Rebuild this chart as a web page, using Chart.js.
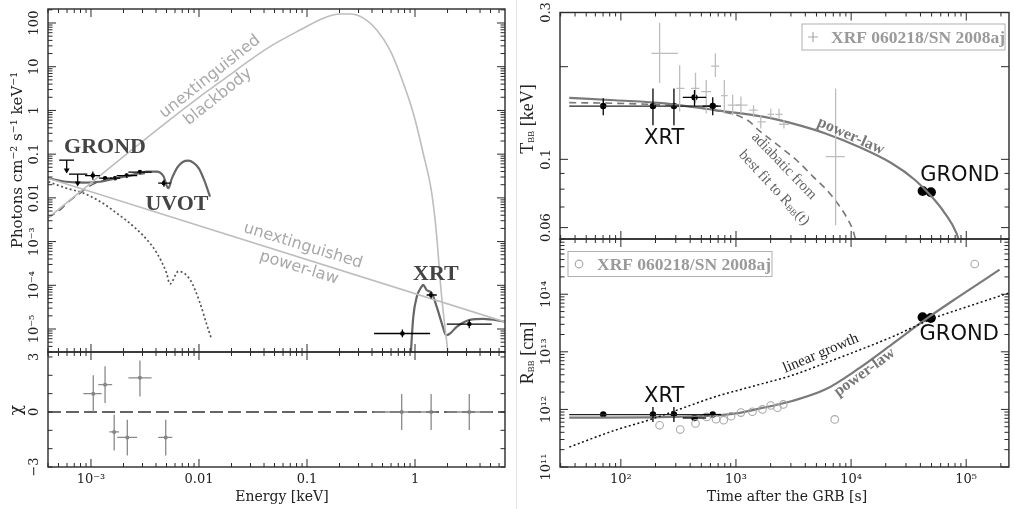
<!DOCTYPE html>
<html>
<head>
<meta charset="utf-8">
<script src="https://cdn.jsdelivr.net/npm/chart.js"></script>
<style>
  body { margin: 0; background: #fff; }
  #wrap { position: relative; width: 1014px; height: 509px; overflow: hidden; }
  #wrap canvas { position: absolute; left: 0; top: 0; }
  #sep { position: absolute; left: 516px; top: 0; width: 1px; height: 509px; background: #e6e6e6; }
</style>
</head>
<body>
<div id="wrap">
  <div id="sep"></div>
  <canvas id="spec" width="1014" height="509"></canvas>
  <canvas id="chi" width="1014" height="509"></canvas>
  <canvas id="temp" width="1014" height="509"></canvas>
  <canvas id="rad" width="1014" height="509"></canvas>
</div>

<script>
// ---------------- left panel: spectrum ----------------
// unextinguished blackbody
const bbE = [4.0e-4, 3.16e-3, 0.01, 0.0178, 0.0296, 0.0454, 0.0861, 0.142, 0.202, 0.250, 0.333, 0.442, 0.587, 0.780, 0.966, 1.19, 1.43, 1.585, 1.74, 2.02];
const bbF = [3.47e-3, 0.219, 2.0, 5.6, 14.1, 28.8, 69, 129, 160, 160, 129, 69, 24, 4.2, 0.85, 0.105, 0.0126, 1.41e-3, 7.9e-5, 2.8e-6];
// unextinguished power-law
const plE = [4.0e-4, 6.81];
const plF = [0.0282, 1.45e-5];
// dotted component
const dotE = [4.03e-4, 5.94e-4, 8.47e-4, 1.21e-3, 1.73e-3, 2.47e-3, 3.28e-3, 4.07e-3, 5.01e-3, 5.38e-3, 6.46e-3, 8.26e-3, 0.0102, 0.0117, 0.0129];
const dotF = [0.0234, 0.0166, 0.0129, 8.3e-3, 4.47e-3, 2.24e-3, 1.12e-3, 5.5e-4, 1.9e-4, 1.07e-4, 2.09e-4, 1.35e-4, 3.98e-5, 1.35e-5, 6.46e-6];
// dashed component
const dashE = [4.0e-4, 5.37e-4, 6.46e-4, 7.94e-4, 9.55e-4, 1.2e-3, 1.58e-3, 2.24e-3, 3.16e-3];
const dashF = [3.47e-3, 5.75e-3, 8.9e-3, 0.0129, 0.0182, 0.0234, 0.0275, 0.0316, 0.0363];
// total model, optical/UV part
const optE = [4.0e-4, 5.94e-4, 8.51e-4, 1.21e-3, 1.73e-3, 2.47e-3, 3.28e-3, 4.06e-3, 4.68e-3, 5.2e-3, 5.62e-3, 6.31e-3, 7.08e-3, 7.94e-3, 8.91e-3, 0.01, 0.0112, 0.01265];
const optF = [0.0282, 0.0234, 0.0224, 0.0234, 0.0282, 0.0339, 0.0398, 0.0398, 0.0316, 0.0166, 0.0282, 0.0501, 0.0661, 0.0708, 0.0631, 0.0468, 0.0251, 0.0107];
// total model, X-ray part
const xmE = [0.912, 0.964, 1.04, 1.15, 1.19, 1.28, 1.43, 1.59, 1.77, 1.94, 2.11, 2.43, 3.23, 4.30, 6.81];
const xmF = [2.5e-6, 1.9e-5, 5.5e-5, 9.3e-5, 1.02e-4, 7.8e-5, 6.6e-5, 3.2e-5, 1.35e-5, 7.2e-6, 7.9e-6, 1.12e-5, 1.62e-5, 1.7e-5, 1.48e-5];
// GROND + UVOT detections
const grE = [1.04e-3, 1.35e-3, 1.67e-3, 2.14e-3, 2.84e-3, 4.74e-3];
const grF = [0.0324, 0.0282, 0.0282, 0.0324, 0.0387, 0.0217];
const grEerr = [[8.8e-4, 1.21e-3], [1.19e-3, 1.56e-3], [1.50e-3, 1.86e-3], [1.73e-3, 2.68e-3], [2.22e-3, 3.64e-3], [4.19e-3, 5.46e-3]];
const grFerr = [[0.0258, 0.040], [0.026, 0.031], [0.026, 0.031], [0.029, 0.036], [0.035, 0.043], [0.018, 0.026]];
// upper limits
const ulE = [5.96e-4, 7.53e-4];
const ulF = [0.0729, 0.0349];
const ulEerr = [[5.08e-4, 6.97e-4], [6.25e-4, 9.25e-4]];
const ulTo = [0.0361, 0.0182];
// XRT spectrum
const xrE = [0.764, 1.41, 3.18];
const xrF = [7.9e-6, 6.0e-5, 1.3e-5];
const xrEerr = [[0.418, 1.38], [1.28, 1.59], [1.97, 5.13]];
const xrFerr = [[6.5e-6, 9.8e-6], [5.0e-5, 7.1e-5], [1.04e-5, 1.62e-5]];
// residuals
const chiE = [1.05e-3, 1.35e-3, 1.64e-3, 2.17e-3, 2.84e-3, 4.92e-3, 0.753, 1.41, 3.18];
const chiV = [1.0, 1.49, -1.09, -1.39, 1.86, -1.39, 0, 0, 0];
const chiEerr = [[8.49e-4, 1.256e-3], [1.17e-3, 1.57e-3], [1.48e-3, 1.82e-3], [1.75e-3, 2.67e-3], [2.22e-3, 3.64e-3], [4.2e-3, 5.66e-3], [0.418, 1.04], [1.04, 1.59], [1.97, 5.13]];
const chiVerr = [[0, 2.0], [0.49, 2.49], [-2.1, -0.15], [-2.37, -0.42], [0.85, 2.8], [-2.37, -0.42], [-0.98, 0.98], [-0.98, 0.98], [-0.98, 0.98]];
const zeroE = [4.0e-4, 6.81];
const zeroV = [0, 0];

// ---------------- right panels: T_BB and R_BB ----------------
const xrtT = [70.3, 190, 289, 436, 628];
const xrtTerr = [null, null, null, [345, 551], [514, 741]];
const xrtTemp = [0.149, 0.149, 0.149, 0.159, 0.149];
const xrtTempErr = [[0.139, 0.158], [0.129, 0.170], [0.129, 0.170], [0.149, 0.168], [0.139, 0.159]];
const xrtRad = [8.15e11, 8.15e11, 8.15e11, 7.1e11, 8.15e11];
const xrtRadErr = [null, [6.07e11, 1.1e12], [6.07e11, 1.1e12], null, null];
const xrtFitT = [35.6, 700];
const xrtFitTemp = [0.149, 0.149];
const xrtFitRad = [8.15e11, 8.15e11];

const grondT = [41800, 49300];
const grondTemp = [0.0789, 0.0782];
const grondRad = [3.98e13, 3.86e13];

const plTT = [35.6, 88.7, 240, 649, 1758, 3080, 5980, 11600, 22500, 35900, 50000, 65200, 82200, 88500];
const plTemp = [0.1585, 0.1556, 0.152, 0.1446, 0.1374, 0.1309, 0.1214, 0.1099, 0.0971, 0.0857, 0.0757, 0.0668, 0.0576, 0.0527];
const adT = [35.6, 88.7, 334, 649, 1260, 1590, 2400, 3350, 4670, 6500, 9060, 10350, 10900];
const adTemp = [0.1528, 0.1521, 0.149, 0.1446, 0.134, 0.124, 0.110, 0.0995, 0.0879, 0.0776, 0.0652, 0.0589, 0.0551];

const plRT = [35.6, 178, 482, 966, 1590, 3080, 6000, 11600, 22600, 45300, 85100, 195000];
const plRad = [7.2e11, 7.3e11, 7.6e11, 8.45e11, 1.03e12, 1.40e12, 2.23e12, 5.1e12, 1.35e13, 3.77e13, 8.9e13, 2.67e14];
const linT = [35.7, 88.7, 172, 334, 649, 1590, 3080, 6000, 11600, 22600, 50100, 111000, 235000];
const linRad = [2.22e11, 4.34e11, 6.47e11, 1.03e12, 1.64e12, 2.7e12, 3.91e12, 6.4e12, 1.06e13, 1.81e13, 3.71e13, 6.41e13, 1.05e14];

// XRF 060218 / SN 2008aj comparison
const refT = [217, 324, 445, 551, 662, 792, 935, 1104, 1420, 1640, 2004, 2366, 2606, 7330];
const refTerr = [[184, 313], [303, 357], [408, 482], [498, 608], [608, 717], [741, 846], [846, 1104], [1000, 1260], [1300, 1540], [1540, 1820], [1875, 2140], [2200, 2540], [2370, 2890], [6000, 8810]];
const refTemp = [0.221, 0.170, 0.170, 0.166, 0.201, 0.161, 0.150, 0.150, 0.1445, 0.1324, 0.140, 0.140, 0.130, 0.102];
const refTempErr = [[0.177, 0.278], [0.143, 0.202], [0.152, 0.191], [0.141, 0.181], [0.185, 0.221], [0.141, 0.181], [0.139, 0.162], [0.141, 0.160], [0.137, 0.150], [0.126, 0.139], [0.136, 0.146], [0.136, 0.146], [0.126, 0.134], [0.0611, 0.170]];
const refRT = [217, 328, 445, 557, 671, 782, 906, 1104, 1390, 1698, 2004, 2291, 2577, 7210, 118600];
const refRad = [5.3e11, 4.47e11, 5.7e11, 7.4e11, 6.76e11, 6.5e11, 7.6e11, 8.8e11, 9.1e11, 1.0e12, 1.17e12, 1.07e12, 1.22e12, 6.7e11, 3.35e14];

// ---------------- ticks ----------------
const energyMajor = [1e-3, 0.01, 0.1, 1];
const energyLabels = ['10⁻³', '0.01', '0.1', '1'];
const fluxMajor = [1e-5, 1e-4, 1e-3, 0.01, 0.1, 1, 10, 100];
const fluxLabels = ['10⁻⁵', '10⁻⁴', '10⁻³', '0.01', '0.1', '1', '10', '100'];
const chiTicks = [-3, -2, -1, 0, 1, 2, 3];
const chiLabelVals = [-3, 0, 3];
const chiLabels = ['−3', '0', '3'];
const timeMajor = [1e2, 1e3, 1e4, 1e5];
const timeLabels = ['10²', '10³', '10⁴', '10⁵'];
const tempMajor = [0.06, 0.1, 0.2, 0.3];
const tempMinor = [0.07, 0.08, 0.09];
const tempLabelVals = [0.06, 0.1, 0.3];
const tempLabels = ['0.06', '0.1', '0.3'];
const radMajor = [1e11, 1e12, 1e13, 1e14, 1e15];
const radLabelVals = [1e11, 1e12, 1e13, 1e14];
const radLabels = ['10¹¹', '10¹²', '10¹³', '10¹⁴'];

// minor log ticks 2..9 x 10^e
function decadeTicks(lo, hi) {
  const out = [];
  for (let e = lo; e <= hi; e++) for (let m = 2; m < 10; m++) out.push(m * Math.pow(10, e));
  return out;
}

const SERIF = '"DejaVu Serif", serif';
const TIMES = '"Liberation Serif", "Times New Roman", serif';
const SANS = '"DejaVu Sans", sans-serif';

const pts = (xs, ys) => xs.map((x, i) => ({ x, y: ys[i] }));

function curve(xs, ys, color, width, dash) {
  return {
    data: pts(xs, ys), showLine: true, borderColor: color, borderWidth: width,
    borderDash: dash || [], pointRadius: 0, cubicInterpolationMode: 'monotone', fill: false
  };
}
function marks(xs, ys, o) {
  return Object.assign({
    data: pts(xs, ys), showLine: false, pointRadius: 2.5,
    pointBackgroundColor: '#000', pointBorderColor: '#000', pointBorderWidth: 0
  }, o);
}

// draw a line of text made of pieces (for subscripts), centred on (x, y)
function drawRich(ctx, x, y, rot, parts, color) {
  ctx.save();
  ctx.translate(x, y);
  ctx.rotate(rot * Math.PI / 180);
  ctx.fillStyle = color;
  ctx.textBaseline = 'middle';
  ctx.textAlign = 'left';
  let w = 0;
  parts.forEach(p => { ctx.font = p.f; p.w = ctx.measureText(p.t).width; w += p.w; });
  let cx = -w / 2;
  parts.forEach(p => { ctx.font = p.f; ctx.fillText(p.t, cx, p.dy || 0); cx += p.w; });
  ctx.restore();
}

const decoPlugin = {
  id: 'deco',
  afterDatasetsDraw(chart) {
    const { ctx, chartArea: a, scales: { x, y } } = chart;
    ctx.save();
    ctx.beginPath();
    ctx.rect(a.left, a.top, a.right - a.left, a.bottom - a.top);
    ctx.clip();
    chart.data.datasets.forEach(ds => {
      if (!ds.xErr && !ds.yErr && !ds.limTo) return;
      ctx.strokeStyle = ds.errColor || '#000';
      ctx.fillStyle = ds.errColor || '#000';
      ctx.lineWidth = ds.errWidth || 1.3;
      ds.data.forEach((p, i) => {
        const px = x.getPixelForValue(p.x), py = y.getPixelForValue(p.y);
        const xe = ds.xErr && ds.xErr[i], ye = ds.yErr && ds.yErr[i];
        ctx.beginPath();
        if (xe) { ctx.moveTo(x.getPixelForValue(xe[0]), py); ctx.lineTo(x.getPixelForValue(xe[1]), py); }
        if (ye) { ctx.moveTo(px, y.getPixelForValue(ye[0])); ctx.lineTo(px, y.getPixelForValue(ye[1])); }
        ctx.stroke();
        if (ds.limTo) {
          const ty = y.getPixelForValue(ds.limTo[i]);
          ctx.beginPath(); ctx.moveTo(px, py); ctx.lineTo(px, ty - 4); ctx.stroke();
          ctx.beginPath(); ctx.moveTo(px - 3, ty - 5); ctx.lineTo(px + 3, ty - 5); ctx.lineTo(px, ty); ctx.closePath(); ctx.fill();
        }
      });
    });
    ctx.restore();
  },
  afterDraw(chart, args, o) {
    const { ctx, chartArea: a, scales: { x, y } } = chart;
    ctx.save();
    // frame
    ctx.strokeStyle = '#2a2a2a';
    ctx.lineWidth = 1.4;
    ctx.strokeRect(a.left, a.top, a.right - a.left, a.bottom - a.top);
    // inward ticks on all four sides
    ctx.lineWidth = 1;
    ctx.beginPath();
    const xt = (vals, L) => vals.forEach(v => {
      const p = x.getPixelForValue(v);
      if (p < a.left - 0.5 || p > a.right + 0.5) return;
      ctx.moveTo(p, a.bottom); ctx.lineTo(p, a.bottom - L);
      ctx.moveTo(p, a.top); ctx.lineTo(p, a.top + L);
    });
    const yt = (vals, L) => vals.forEach(v => {
      const p = y.getPixelForValue(v);
      if (p < a.top - 0.5 || p > a.bottom + 0.5) return;
      ctx.moveTo(a.left, p); ctx.lineTo(a.left + L, p);
      ctx.moveTo(a.right, p); ctx.lineTo(a.right - L, p);
    });
    xt(o.xMajor, 8); xt(o.xMinor, 4);
    yt(o.yMajor, 8); yt(o.yMinor, 4.5);
    ctx.stroke();
    // tick labels
    ctx.fillStyle = '#222';
    ctx.font = '13px ' + SERIF;
    ctx.textAlign = 'center';
    ctx.textBaseline = 'middle';
    if (o.xLab) o.xLab.vals.forEach((v, i) => ctx.fillText(o.xLab.text[i], x.getPixelForValue(v), a.bottom + 13));
    if (o.yLab) o.yLab.vals.forEach((v, i) => {
      ctx.save();
      ctx.translate(a.left - 13, y.getPixelForValue(v));
      ctx.rotate(-Math.PI / 2);
      ctx.fillText(o.yLab.text[i], 0, 0);
      ctx.restore();
    });
    ctx.restore();
    // axis titles
    (o.titles || []).forEach(t => {
      const [tx, ty] = t.pos(a);
      drawRich(ctx, tx, ty, t.rot || 0, t.parts, t.color || '#222');
    });
    // annotations anchored in data coordinates
    (o.texts || []).forEach(t => {
      drawRich(ctx, x.getPixelForValue(t.x), y.getPixelForValue(t.y), t.rot || 0, t.parts, t.color);
    });
    // legend box
    if (o.legend) {
      const L = o.legend, [bx, by] = L.pos(a);
      ctx.save();
      ctx.strokeStyle = '#b0b0b0'; ctx.lineWidth = 1;
      ctx.strokeRect(bx, by, L.w, L.h);
      const cy = by + L.h / 2, mx = bx + 11;
      ctx.strokeStyle = '#aaa'; ctx.lineWidth = 1.2;
      ctx.beginPath();
      if (L.marker === 'plus') {
        ctx.moveTo(mx - 5, cy); ctx.lineTo(mx + 5, cy);
        ctx.moveTo(mx, cy - 5); ctx.lineTo(mx, cy + 5);
      } else {
        ctx.arc(mx, cy, 3.8, 0, Math.PI * 2);
      }
      ctx.stroke();
      ctx.fillStyle = '#9a9a9a';
      ctx.font = 'bold 17.5px ' + TIMES;
      ctx.textAlign = 'left'; ctx.textBaseline = 'middle';
      ctx.fillText(L.text, bx + 29, cy + 1);
      ctx.restore();
    }
  }
};

function makeChart(id, pad, xOpt, yOpt, datasets, deco) {
  return new Chart(document.getElementById(id), {
    type: 'scatter',
    data: { datasets },
    options: {
      responsive: false, animation: false, events: [],
      layout: { padding: pad },
      plugins: { legend: { display: false }, tooltip: { enabled: false }, deco },
      scales: {
        x: Object.assign({ display: false }, xOpt),
        y: Object.assign({ display: false }, yOpt)
      }
    },
    plugins: [decoPlugin]
  });
}

const energyAxis = { type: 'logarithmic', min: 4.0e-4, max: 6.81 };
const timeAxis = { type: 'logarithmic', min: 29.6, max: 2.35e5 };
const BIG = 'bold 22px ' + TIMES;
const COMIC = '21px ' + SANS;
const NOTE = '16px ' + SANS;

// ---- spectrum ----
makeChart('spec', { left: 48, top: 9, right: 509, bottom: 157 },
  energyAxis,
  { type: 'logarithmic', min: 2.98e-6, max: 209 },
  [
    curve(bbE, bbF, '#bdbdbd', 1.6),
    curve(plE, plF, '#bdbdbd', 1.6),
    curve(dotE, dotF, '#555', 1.7, [2, 2.5]),
    curve(dashE, dashF, '#666', 1.5, [8, 5]),
    curve(optE, optF, '#666', 2.2),
    curve(xmE, xmF, '#666', 2.2),
    marks(grE, grF, { xErr: grEerr, yErr: grFerr, pointRadius: 2.3 }),
    marks(ulE, ulF, { xErr: ulEerr, limTo: ulTo, pointRadius: 0 }),
    marks(xrE, xrF, { xErr: xrEerr, yErr: xrFerr, pointRadius: 2.3 })
  ],
  {
    xMajor: energyMajor, xMinor: decadeTicks(-4, 0),
    yMajor: fluxMajor, yMinor: decadeTicks(-6, 2),
    yLab: { vals: fluxMajor, text: fluxLabels },
    titles: [{ pos: a => [a.left - 30, a.top + 151], rot: -90, parts: [{ t: 'Photons cm⁻² s⁻¹ keV⁻¹', f: '15px ' + SERIF }] }],
    texts: [
      { x: 1.35e-3, y: 0.143, parts: [{ t: 'GROND', f: BIG }], color: '#444' },
      { x: 6.25e-3, y: 7.1e-3, parts: [{ t: 'UVOT', f: BIG }], color: '#444' },
      { x: 1.56, y: 1.77e-4, parts: [{ t: 'XRT', f: BIG }], color: '#444' },
      { x: 0.01265, y: 5.87, rot: -38.5, parts: [{ t: 'unextinguished', f: NOTE }], color: '#a8a8a8' },
      { x: 0.0150, y: 2.05, rot: -38.5, parts: [{ t: 'blackbody', f: NOTE }], color: '#a8a8a8' },
      { x: 0.0918, y: 7.97e-4, rot: 17, parts: [{ t: 'unextinguished', f: NOTE }], color: '#a8a8a8' },
      { x: 0.0843, y: 2.5e-4, rot: 17, parts: [{ t: 'power-law', f: NOTE }], color: '#a8a8a8' }
    ]
  });

// ---- residuals ----
makeChart('chi', { left: 48, top: 352, right: 509, bottom: 42 },
  energyAxis,
  { type: 'linear', min: -3, max: 3.27 },
  [
    curve(zeroE, zeroV, '#333', 1.5, [13, 5]),
    marks(chiE, chiV, { xErr: chiEerr, yErr: chiVerr, errColor: '#8a8a8a', pointRadius: 2, pointBackgroundColor: '#777', pointBorderColor: '#777' })
  ],
  {
    xMajor: energyMajor, xMinor: decadeTicks(-4, 0),
    yMajor: [], yMinor: chiTicks,
    xLab: { vals: energyMajor, text: energyLabels },
    yLab: { vals: chiLabelVals, text: chiLabels },
    titles: [
      { pos: a => [a.left - 31, a.top + 58], rot: -90, parts: [{ t: 'χ', f: '17px ' + SERIF }] },
      { pos: a => [a.left + 234, a.bottom + 30], parts: [{ t: 'Energy [keV]', f: '14px ' + SERIF }] }
    ]
  });

// ---- temperature ----
makeChart('temp', { left: 560, top: 12.5, right: 3, bottom: 270 },
  timeAxis,
  { type: 'logarithmic', min: 0.0551, max: 0.3 },
  [
    marks(refT, refTemp, { xErr: refTerr, yErr: refTempErr, errColor: '#bdbdbd', errWidth: 1.3, pointRadius: 0 }),
    curve(xrtFitT, xrtFitTemp, '#222', 1.2),
    curve(adT, adTemp, '#777', 1.6, [7, 5]),
    curve(plTT, plTemp, '#7a7a7a', 2.2),
    marks(xrtT, xrtTemp, { xErr: xrtTerr, yErr: xrtTempErr, pointRadius: 3.2 }),
    marks(grondT, grondTemp, { pointRadius: 5 })
  ],
  {
    xMajor: timeMajor, xMinor: decadeTicks(1, 5),
    yMajor: tempMajor, yMinor: tempMinor,
    yLab: { vals: tempLabelVals, text: tempLabels },
    titles: [{ pos: a => [a.left - 32, a.top + 106.5], rot: -90, parts: [
      { t: 'T', f: '18px ' + TIMES }, { t: 'BB', f: '9px ' + TIMES, dy: 4 }, { t: ' [keV]', f: '18px ' + TIMES }] }],
    texts: [
      { x: 238, y: 0.117, parts: [{ t: 'XRT', f: COMIC }], color: '#111' },
      { x: 8.8e4, y: 0.0889, parts: [{ t: 'GROND', f: COMIC }], color: '#111' },
      { x: 9930, y: 0.119, rot: 24, parts: [{ t: 'power-law', f: 'bold 16px ' + TIMES }], color: '#777' },
      { x: 2610, y: 0.0951, rot: 46, parts: [{ t: 'adiabatic from', f: '15px ' + TIMES }], color: '#666' },
      { x: 2140, y: 0.0807, rot: 47, parts: [
        { t: 'best fit to R', f: '15px ' + TIMES }, { t: 'BB', f: '9px ' + TIMES, dy: 3 }, { t: '(t)', f: '15px ' + TIMES }], color: '#666' }
    ],
    legend: { pos: a => [a.right - 207, a.top + 11.5], w: 203, h: 26, marker: 'plus', text: 'XRF 060218/SN 2008aj' }
  });

// ---- radius ----
makeChart('rad', { left: 560, top: 239, right: 3, bottom: 42 },
  timeAxis,
  { type: 'logarithmic', min: 1e11, max: 9.1e14 },
  [
    marks(refRT, refRad, { pointRadius: 3.8, pointBackgroundColor: 'rgba(0,0,0,0)', pointBorderColor: '#a8a8a8', pointBorderWidth: 1.1 }),
    curve(linT, linRad, '#111', 1.5, [2, 2.5]),
    curve(xrtFitT, xrtFitRad, '#222', 1.2),
    curve(plRT, plRad, '#7a7a7a', 2.2),
    marks(xrtT, xrtRad, { xErr: xrtTerr, yErr: xrtRadErr, pointRadius: 3.2 }),
    marks(grondT, grondRad, { pointRadius: 5 })
  ],
  {
    xMajor: timeMajor, xMinor: decadeTicks(1, 5),
    yMajor: radMajor, yMinor: decadeTicks(11, 14),
    xLab: { vals: timeMajor, text: timeLabels },
    yLab: { vals: radLabelVals, text: radLabels },
    titles: [
      { pos: a => [a.left - 32, a.top + 114], rot: -90, parts: [
        { t: 'R', f: '18px ' + TIMES }, { t: 'BB', f: '9px ' + TIMES, dy: 4 }, { t: ' [cm]', f: '18px ' + TIMES }] },
      { pos: a => [a.left + 227, a.bottom + 30], parts: [{ t: 'Time after the GRB [s]', f: '14px ' + SERIF }] }
    ],
    texts: [
      { x: 238, y: 1.66e12, parts: [{ t: 'XRT', f: COMIC }], color: '#111' },
      { x: 8.7e4, y: 1.96e13, parts: [{ t: 'GROND', f: COMIC }], color: '#111' },
      { x: 5460, y: 9.4e12, rot: -23, parts: [{ t: 'linear growth', f: '15px ' + TIMES }], color: '#222' },
      { x: 13100, y: 4.4e12, rot: -36, parts: [{ t: 'power-law', f: 'bold 16px ' + TIMES }], color: '#777' }
    ],
    legend: { pos: a => [a.left + 8, a.top + 12.5], w: 204, h: 25, marker: 'circle', text: 'XRF 060218/SN 2008aj' }
  });
</script>
</body>
</html>
